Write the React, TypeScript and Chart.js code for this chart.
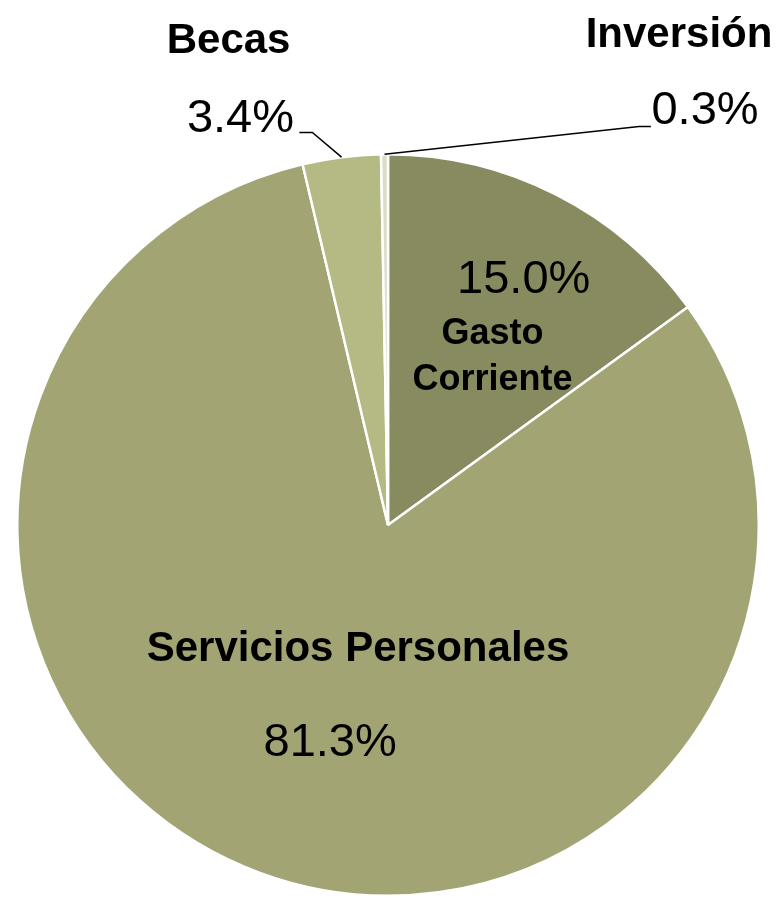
import React, { useEffect, useRef } from "react";
import { Chart, registerables } from "chart.js";

Chart.register(...registerables);

const categories = ["Gasto Corriente", "Servicios Personales", "Becas", "Inversión"];
const values = [15.0, 81.3, 3.4, 0.3];
const valueLabels = ["15.0%", "81.3%", "3.4%", "0.3%"];
const nameLines = [["Gasto", "Corriente"], ["Servicios Personales"], ["Becas"], ["Inversión"]];

const colors = ["#878B5F", "#A2A573", "#B5BA84", "#DCDDC8"];

// label layout in units of the pie radius, relative to the pie centre
const layout = [
  { name: { dx: 0.282, dy: -0.489, size: 36, lh: 0.126 }, pct: { dx: 0.366, dy: -0.626 } },
  { name: { dx: -0.081, dy: 0.368, size: 42, lh: 0.12 }, pct: { dx: -0.156, dy: 0.624 } },
  { name: { dx: -0.43, dy: -1.272, size: 42, lh: 0.12 }, pct: { dx: -0.398, dy: -1.059 }, leader: [[-0.204, -1.059], [-0.239, -1.059]] },
  { name: { dx: 0.785, dy: -1.29, size: 42, lh: 0.12 }, pct: { dx: 0.855, dy: -1.081 }, leader: [[0.677, -1.075], [0.709, -1.075]] },
];

const labelPlugin = {
  id: "pieLabels",
  afterDraw(chart: any) {
    const ctx = chart.ctx;
    const meta = chart.getDatasetMeta(0);
    ctx.save();
    meta.data.forEach((arc: any, i: number) => {
      const p = arc.getProps(["x", "y", "startAngle", "endAngle", "outerRadius"], true);
      const cx = p.x, cy = p.y, r = p.outerRadius;
      const L = layout[i];
      const mid = (p.startAngle + p.endAngle) / 2;
      if (L.leader) {
        ctx.beginPath();
        ctx.strokeStyle = "#000";
        ctx.lineWidth = 1.5;
        ctx.moveTo(cx + Math.cos(mid) * r, cy + Math.sin(mid) * r);
        L.leader.forEach(([dx, dy]: number[]) => ctx.lineTo(cx + dx * r, cy + dy * r));
        ctx.stroke();
      }
      ctx.fillStyle = "#000";
      ctx.textAlign = "center";
      ctx.textBaseline = "alphabetic";
      ctx.font = `normal 47px "Liberation Sans", Arial, sans-serif`;
      ctx.fillText(valueLabels[i], cx + L.pct.dx * r, cy + L.pct.dy * r);
      ctx.font = `bold ${L.name.size}px "Liberation Sans", Arial, sans-serif`;
      nameLines[i].forEach((line, k) => {
        ctx.fillText(line, cx + L.name.dx * r, cy + (L.name.dy + k * L.name.lh) * r);
      });
    });
    ctx.restore();
  },
};

export default function App() {
  const ref = useRef<HTMLCanvasElement>(null);
  useEffect(() => {
    if (!ref.current) return;
    const chart = new Chart(ref.current, {
      type: "pie",
      data: {
        labels: categories,
        datasets: [
          {
            data: values,
            backgroundColor: colors,
            borderColor: "#FFFFFF",
            borderWidth: 2.5,
          },
        ],
      },
      options: {
        responsive: false,
        animation: false,
        devicePixelRatio: 1,
        layout: { padding: { left: 16, right: 17, top: 153, bottom: 1 } },
        plugins: {
          legend: { display: false },
          tooltip: { enabled: false },
          title: { display: false },
        },
      },
      plugins: [labelPlugin],
    } as any);
    return () => chart.destroy();
  }, []);
  return (
    <div style={{ position: "absolute", left: 0, top: 0, width: 777, height: 898, background: "#fff" }}>
      <canvas ref={ref} width={777} height={898} style={{ width: 777, height: 898, display: "block" }} />
    </div>
  );
}
